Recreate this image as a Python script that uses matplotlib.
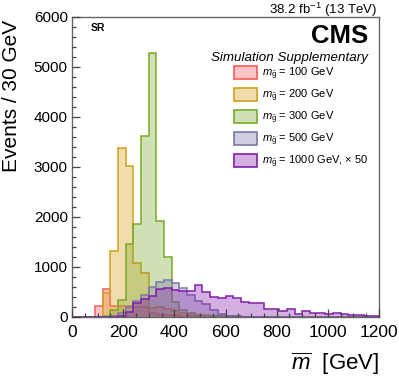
import numpy as np
import matplotlib
matplotlib.use("Agg")
import matplotlib.pyplot as plt
from matplotlib.patches import Patch
from matplotlib.ticker import MultipleLocator

plt.rcParams['font.family'] = ['Liberation Sans', 'DejaVu Sans']
plt.rcParams['mathtext.fontset'] = 'custom'
plt.rcParams['mathtext.rm'] = 'Liberation Sans'
plt.rcParams['mathtext.it'] = 'Liberation Sans:italic'
plt.rcParams['mathtext.bf'] = 'Liberation Sans:bold'

# 30 GeV bins, 0 - 1200 GeV
bin_edges = np.arange(0, 1201, 30)

m100 = [0, 0, 0, 230, 560, 220, 230, 230, 210, 200, 80, 70, 50, 40, 30, 20, 15, 10, 5, 0,
        0, 0, 0, 0, 0, 0, 0, 0, 0, 0, 0, 0, 0, 0, 0, 0, 0, 0, 0, 0]
m200 = [0, 0, 0, 0, 490, 1330, 3390, 3020, 1080, 890, 180, 200, 170, 130, 80, 60, 50, 40, 30, 25,
        20, 15, 10, 5, 0, 0, 0, 0, 0, 0, 0, 0, 0, 0, 0, 0, 0, 0, 0, 0]
m300 = [0, 0, 0, 0, 20, 150, 350, 1470, 1870, 3620, 5280, 1930, 1200, 300, 150, 80, 50, 30, 20, 15,
        10, 5, 0, 0, 0, 0, 0, 0, 0, 0, 0, 0, 0, 0, 0, 0, 0, 0, 0, 0]
m500 = [0, 0, 0, 0, 0, 20, 80, 200, 330, 450, 600, 700, 740, 690, 580, 440, 330, 270, 140, 70,
        30, 15, 5, 0, 0, 0, 0, 0, 0, 0, 0, 0, 0, 0, 0, 0, 0, 0, 0, 0]
m1000_x50 = [0, 0, 0, 0, 0, 0, 20, 107, 273, 360, 430, 560, 590, 540, 530, 527, 640, 507, 407, 387,
             420, 373, 293, 290, 280, 160, 160, 115, 160, 70, 115, 85, 75, 70, 80, 65, 45, 35, 25, 15]

series = [m100, m200, m300, m500, m1000_x50]
labels = [r'$m_{\tilde{\mathrm{g}}}$ = 100 GeV',
          r'$m_{\tilde{\mathrm{g}}}$ = 200 GeV',
          r'$m_{\tilde{\mathrm{g}}}$ = 300 GeV',
          r'$m_{\tilde{\mathrm{g}}}$ = 500 GeV',
          r'$m_{\tilde{\mathrm{g}}}$ = 1000 GeV, $\times$ 50']
colours = ['#FF5A5A', '#D4A017', '#78AA28', '#7878AA', '#821EAA']
fill_alpha = 0.35

fig = plt.figure(figsize=(3.99, 3.78), dpi=100)
ax = fig.add_axes([72 / 399, 61 / 378, 307 / 399, 300 / 378])

for vals, c in zip(series, colours):
    ax.stairs(vals, bin_edges, fill=True, color=c, alpha=fill_alpha, lw=0)
    ax.stairs(vals, bin_edges, baseline=0, color=c, lw=1.1)

ax.set_xlim(0, 1200)
ax.set_ylim(0, 6000)
ax.set_axisbelow(False)

ax.xaxis.set_major_locator(MultipleLocator(200))
ax.xaxis.set_minor_locator(MultipleLocator(50))
ax.yaxis.set_major_locator(MultipleLocator(1000))
ax.yaxis.set_minor_locator(MultipleLocator(200))
ax.tick_params(which='both', direction='in', top=False, right=False, color='#444444', width=0.9)
ax.tick_params(which='major', length=6)
ax.tick_params(which='minor', length=3)
ax.tick_params(axis='x', labelsize=12.5, pad=6)
ax.tick_params(axis='y', labelsize=11, pad=3)
for sp in ax.spines.values():
    sp.set_color('#666666')
    sp.set_linewidth(1.0)

handles = [Patch(facecolor=matplotlib.colors.to_rgba(c, fill_alpha), edgecolor=c, lw=1.2)
           for c in colours]
fig.legend(handles, labels, loc='upper left', bbox_to_anchor=(234 / 399, 1 - 66 / 378),
           frameon=False, fontsize=8, handlelength=2.1, handleheight=1.4,
           labelspacing=0.5, handletextpad=0.45, borderpad=0, borderaxespad=0)

fig.text(377 / 399, 1 - 14 / 378, r'38.2 fb$^{\mathregular{-1}}$ (13 TeV)', ha='right',
         va='baseline', fontsize=9.5)
fig.text(368 / 399, 1 - 43 / 378, 'CMS', ha='right', va='baseline', fontsize=18.5,
         fontweight='bold')
fig.text(368 / 399, 1 - 61 / 378, 'Simulation Supplementary', ha='right', va='baseline',
         fontsize=9.6, style='italic')
fig.text(91 / 399, 1 - 31 / 378, 'SR', ha='left', va='baseline', fontsize=7.5,
         fontweight='bold')

fig.text(12 / 399, 1 - 20 / 378, 'Events / 30 GeV', rotation=90, ha='center', va='top',
         fontsize=15)
fig.text(379 / 399, 1 - 370 / 378, r'$\overline{m}$  [GeV]', ha='right', va='baseline',
         fontsize=16)

fig.savefig('out.png', dpi=100)
